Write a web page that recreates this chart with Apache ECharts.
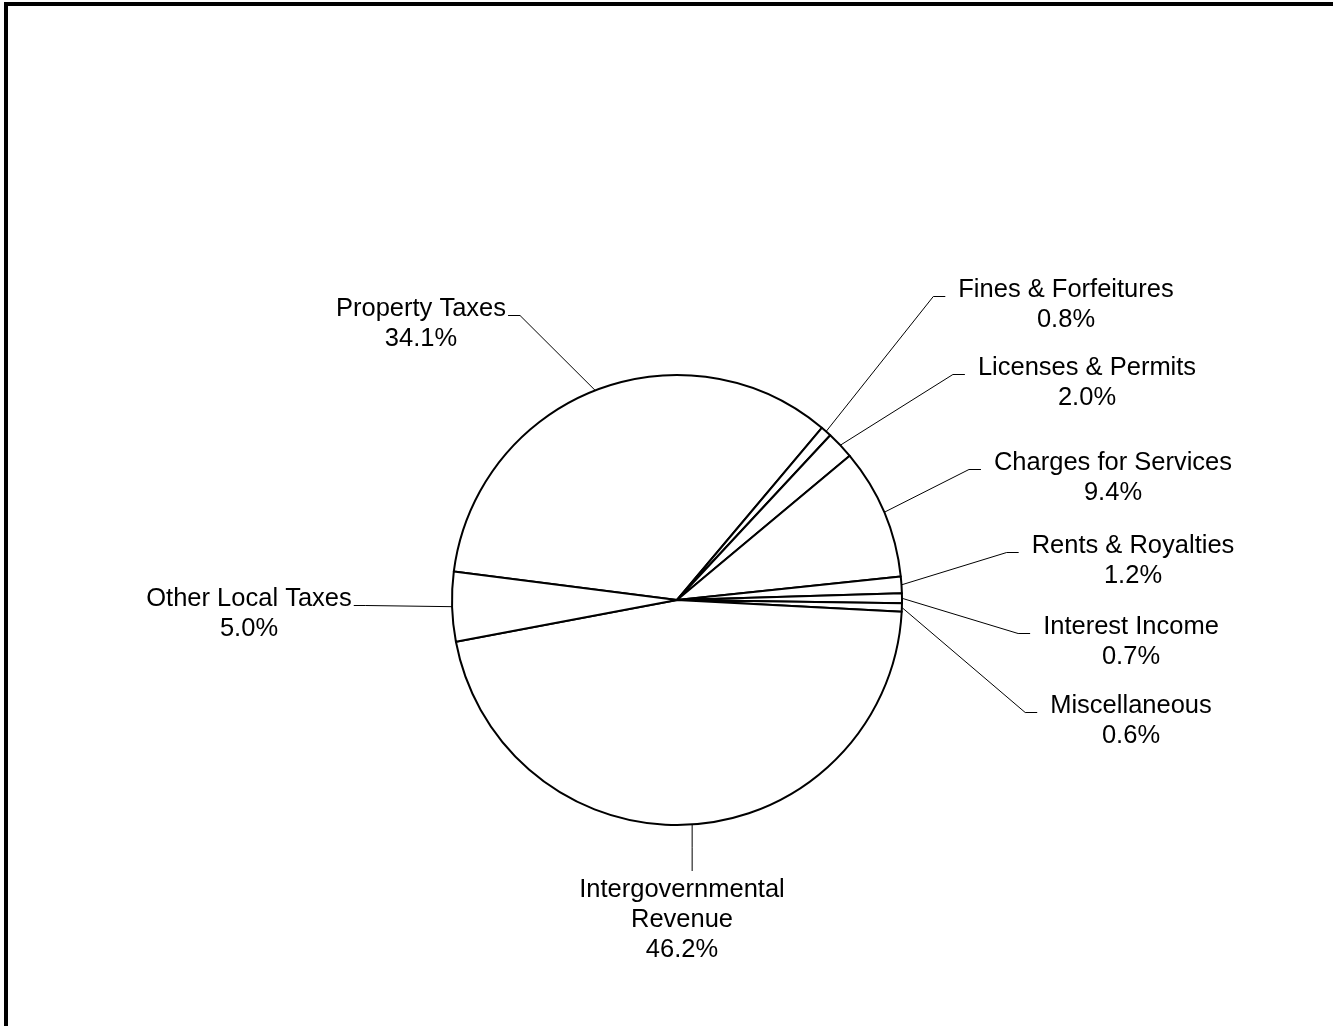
<!DOCTYPE html>
<html><head><meta charset="utf-8">
<script src="https://cdn.jsdelivr.net/npm/echarts@6/dist/echarts.min.js"></script>
<style>html,body{margin:0;padding:0;background:#fff;overflow:hidden}#c{width:1333px;height:1026px}</style>
</head><body><div id="c"></div>
<script>
// ---- data ----
const categories = ['Property Taxes','Fines & Forfeitures','Licenses & Permits','Charges for Services','Rents & Royalties','Interest Income','Miscellaneous','Intergovernmental Revenue','Other Local Taxes'];
const shares = [34.1, 0.8, 2.0, 9.4, 1.2, 0.7, 0.6, 46.2, 5.0];
const labelNames = ['Property Taxes','Fines & Forfeitures','Licenses & Permits','Charges for Services','Rents & Royalties','Interest Income','Miscellaneous','Intergovernmental\nRevenue','Other Local Taxes'];

// ---- layout (px) : label block centre x, first-line centre y, side ----
const labelSpots = [
  [421, 307, 'left'],
  [1066, 288, 'right'],
  [1087, 366, 'right'],
  [1113, 461, 'right'],
  [1133, 544, 'right'],
  [1131, 625, 'right'],
  [1131, 704, 'right'],
  [682, 888, 'bottom'],
  [249, 597, 'left']
];
const LINE_H = 30;
const TEXT_DY = 2;
const CENTER = [677, 600];
const RADIUS = 225;
const START_ANGLE = 172.7;

const total = shares.reduce((a, b) => a + b, 0);
function fallbackStart(i) {
  let cum = 0;
  for (let k = 0; k < i; k++) cum += shares[k];
  const mid = START_ANGLE - (cum + shares[i] / 2) / total * 360;
  const r = mid * Math.PI / 180;
  return [CENTER[0] + RADIUS * Math.cos(r), CENTER[1] - RADIUS * Math.sin(r)];
}

const chart = echarts.init(document.getElementById('c'));
chart.setOption({
  animation: false,
  backgroundColor: '#fff',
  graphic: [{
    type: 'rect',
    shape: { x: 6, y: 4, width: 1400, height: 1100 },
    style: { fill: 'none', stroke: '#000', lineWidth: 4 },
    silent: true
  }],
  series: [{
    type: 'pie',
    center: CENTER,
    radius: RADIUS,
    startAngle: START_ANGLE,
    clockwise: true,
    avoidLabelOverlap: false,
    emphasis: { disabled: true },
    itemStyle: { color: '#fff', borderColor: '#000', borderWidth: 2 },
    label: {
      show: true,
      position: 'outside',
      overflow: 'none',
      color: '#000',
      fontFamily: 'Liberation Sans, Arial, sans-serif',
      fontSize: 25.5,
      lineHeight: LINE_H,
      align: 'center',
      formatter: p => labelNames[p.dataIndex] + '\n' + shares[p.dataIndex].toFixed(1) + '%'
    },
    labelLine: { show: true, smooth: false, length: 20, length2: 10, lineStyle: { color: '#000', width: 1 } },
    labelLayout: function (p) {
      const i = p.dataIndex;
      const s = labelSpots[i];
      const nLines = labelNames[i].split('\n').length + 1;
      const h = nLines * LINE_H;
      const cx = s[0], firstY = s[1];
      const cy = firstY - LINE_H / 2 + h / 2 + TEXT_DY;
      const w = p.labelRect.width;
      const start = (p.labelLinePoints && p.labelLinePoints[0]) ? p.labelLinePoints[0].slice() : fallbackStart(i);
      let pts;
      if (s[2] === 'right') {
        const ex = cx - w / 2 - 13, ey = firstY + 8.5;
        pts = [start, [ex - 12, ey], [ex, ey]];
      } else if (s[2] === 'left') {
        const ex = cx + w / 2 + 2, ey = firstY + 8.5;
        pts = [start, [ex + 12, ey], [ex, ey]];
      } else {
        const ey = firstY - LINE_H / 2 - 2;
        pts = [start, [start[0], (start[1] + ey) / 2], [start[0], ey]];
      }
      return { x: cx, y: cy, align: 'center', verticalAlign: 'middle', labelLinePoints: pts };
    },
    data: categories.map((c, i) => ({ name: c, value: shares[i] }))
  }]
});
</script>
</body></html>
